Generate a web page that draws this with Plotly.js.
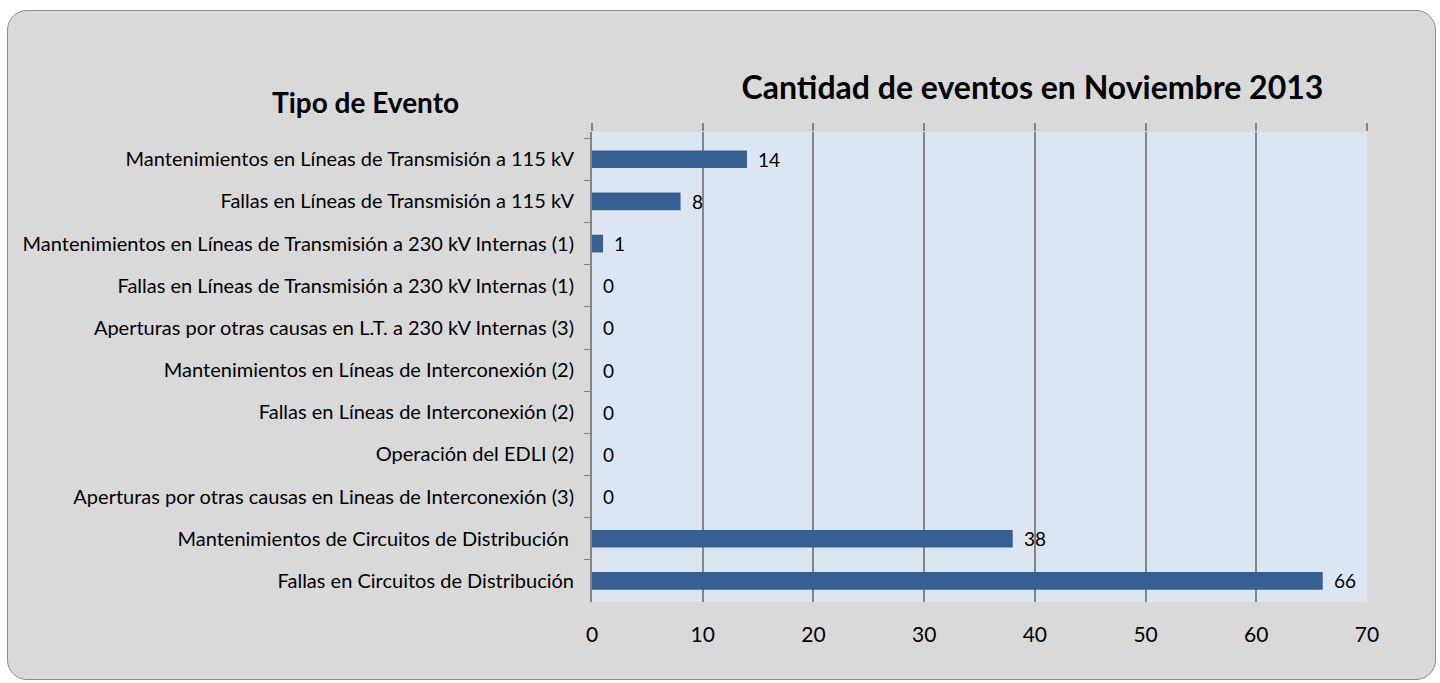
<!DOCTYPE html>
<html>
<head>
<meta charset="utf-8">
<script src="https://cdn.plot.ly/plotly-3.0.1.min.js"></script>
<style>
  html, body { margin: 0; padding: 0; background: #ffffff; }
  #frame { position: absolute; left: 7px; top: 10px; width: 1427px; height: 668px;
           background: #d9d9d9; border: 1px solid #8c8c8c; border-radius: 20px; }
  #chart { position: absolute; left: 0; top: 0; width: 1440px; height: 683px; }
</style>
</head>
<body>
<div id="frame"></div>
<div id="chart"></div>
<script>
const categories = [
  "Mantenimientos en Líneas de Transmisión a 115 kV",
  "Fallas en Líneas de Transmisión a 115 kV",
  "Mantenimientos en Líneas de Transmisión a 230 kV Internas (1)",
  "Fallas en Líneas de Transmisión a 230 kV Internas (1)",
  "Aperturas por otras causas en L.T. a 230 kV Internas (3)",
  "Mantenimientos en Líneas de Interconexión (2)",
  "Fallas en Líneas de Interconexión (2)",
  "Operación del EDLI (2)",
  "Aperturas por otras causas en Lineas de Interconexión (3)",
  "Mantenimientos de Circuitos de Distribución\u00a0",
  "Fallas en Circuitos de Distribución"
];
const eventCounts = [14, 8, 1, 0, 0, 0, 0, 0, 0, 38, 66];
const xTickValues = [0, 10, 20, 30, 40, 50, 60, 70];

const font = "Lato, 'Open Sans', sans-serif";

const trace = {
  type: "bar",
  orientation: "h",
  x: eventCounts,
  y: categories,
  marker: { color: "#366092", line: { width: 0 } },
  hoverinfo: "x+y",
  xaxis: "x",
  yaxis: "y"
};

const annotations = categories.map((c, i) => ({
  x: eventCounts[i], y: c, xref: "x", yref: "y",
  text: String(eventCounts[i]), showarrow: false,
  xanchor: "left", xshift: 9,
  font: { family: font, size: 19, color: "#000000" }
}));
annotations.push({
  text: "<b>Tipo de Evento</b>", xref: "paper", yref: "paper",
  x: -0.292, y: 1.064, xanchor: "center", yanchor: "middle", showarrow: false,
  font: { family: font, size: 28, color: "#000000" }
});

const layout = {
  width: 1440, height: 683,
  paper_bgcolor: "rgba(0,0,0,0)",
  plot_bgcolor: "#dce6f2",
  margin: { l: 592, r: 73, t: 132, b: 81 },
  showlegend: false,
  bargap: 0.58,
  title: {
    text: "<b>Cantidad de eventos en Noviembre 2013</b>",
    x: 0.717, xref: "container", xanchor: "center",
    y: 0.871, yref: "container", yanchor: "middle",
    font: { family: font, size: 32, color: "#000000" }
  },
  xaxis: {
    range: [0, 70], tickvals: xTickValues, ticktext: xTickValues.map(String),
    showgrid: true, gridcolor: "#868686", gridwidth: 1.5,
    zeroline: false, showline: false, ticks: "",
    ticklabelstandoff: 18,
    tickfont: { family: font, size: 21, color: "#000000" },
    fixedrange: true
  },
  xaxis2: {
    overlaying: "x", side: "top", range: [0, 70], tickvals: xTickValues,
    showticklabels: false, ticks: "outside", ticklen: 8, tickcolor: "#868686",
    tickwidth: 1.5, showgrid: false, zeroline: false, showline: false, matches: "x"
  },
  yaxis: {
    type: "category", autorange: "reversed",
    showline: true, linecolor: "#868686", linewidth: 2,
    ticks: "outside", tickson: "boundaries", ticklen: 6, tickcolor: "#868686",
    ticklabelstandoff: 12,
    showgrid: false, zeroline: false,
    tickfont: { family: font, size: 20, color: "#000000" },
    fixedrange: true
  },
  annotations: annotations
};

const dummyTop = { type: "scatter", x: [0], y: [categories[0]], xaxis: "x2", yaxis: "y",
  mode: "markers", marker: { opacity: 0 }, hoverinfo: "skip" };

Plotly.newPlot("chart", [trace, dummyTop], layout, { displayModeBar: false });
</script>
</body>
</html>
